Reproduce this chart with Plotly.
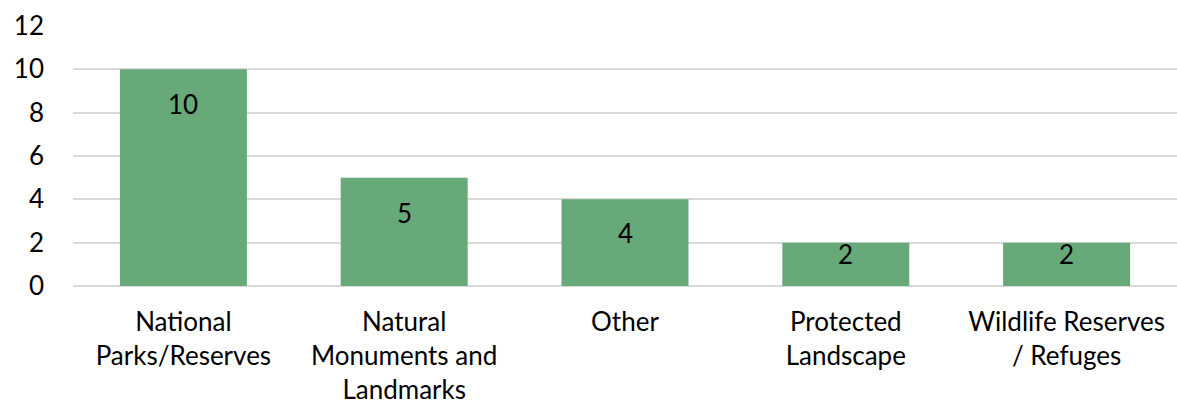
import plotly.graph_objects as go

categories = ["National<br>Parks/Reserves", "Natural<br>Monuments and<br>Landmarks", "Other",
              "Protected<br>Landscape", "Wildlife Reserves<br>/ Refuges"]
values = [10, 5, 4, 2, 2]
y_ticks = [0, 2, 4, 6, 8, 10, 12]

FONT = "Lato, Carlito, Calibri, sans-serif"
FS = 26
TOP, BOTTOM, H = 26, 120, 406
Y_MAX = 12
px_per_unit = (H - TOP - BOTTOM) / Y_MAX

fig = go.Figure(go.Bar(
    x=categories, y=values,
    marker=dict(color="#67A979", line=dict(width=0)),
    hoverinfo="x+y",
))

# data labels, placed inside the bar end (like Excel "Inside End")
for c, v in zip(categories, values):
    bar_px = v * px_per_unit
    offset = min(35, bar_px / 2 - 10)
    fig.add_annotation(x=c, y=v, text=str(v), showarrow=False, yanchor="middle",
                       yshift=-offset, font=dict(family=FONT, size=FS, color="#000000"))

fig.update_layout(
    width=1177, height=H,
    margin=dict(l=73, r=0, t=TOP, b=BOTTOM),
    paper_bgcolor="white", plot_bgcolor="white",
    bargap=0.425,
    showlegend=False,
    font=dict(family=FONT, size=FS, color="#000000"),
)
fig.update_yaxes(range=[0, Y_MAX], tickvals=y_ticks, showgrid=True, gridcolor="#D9D9D9", gridwidth=1.5,
                 zeroline=True, zerolinecolor="#D9D9D9", zerolinewidth=1.5, automargin=False,
                 showline=False, ticklabelstandoff=28, tickfont=dict(family=FONT, size=FS))
fig.update_xaxes(showline=False, showgrid=False, automargin=False, ticklabelstandoff=18,
                 tickfont=dict(family=FONT, size=FS))

fig.write_html("out.html", config={"displayModeBar": False},
               post_script="document.body.style.margin='0';document.body.style.overflow='hidden';")
